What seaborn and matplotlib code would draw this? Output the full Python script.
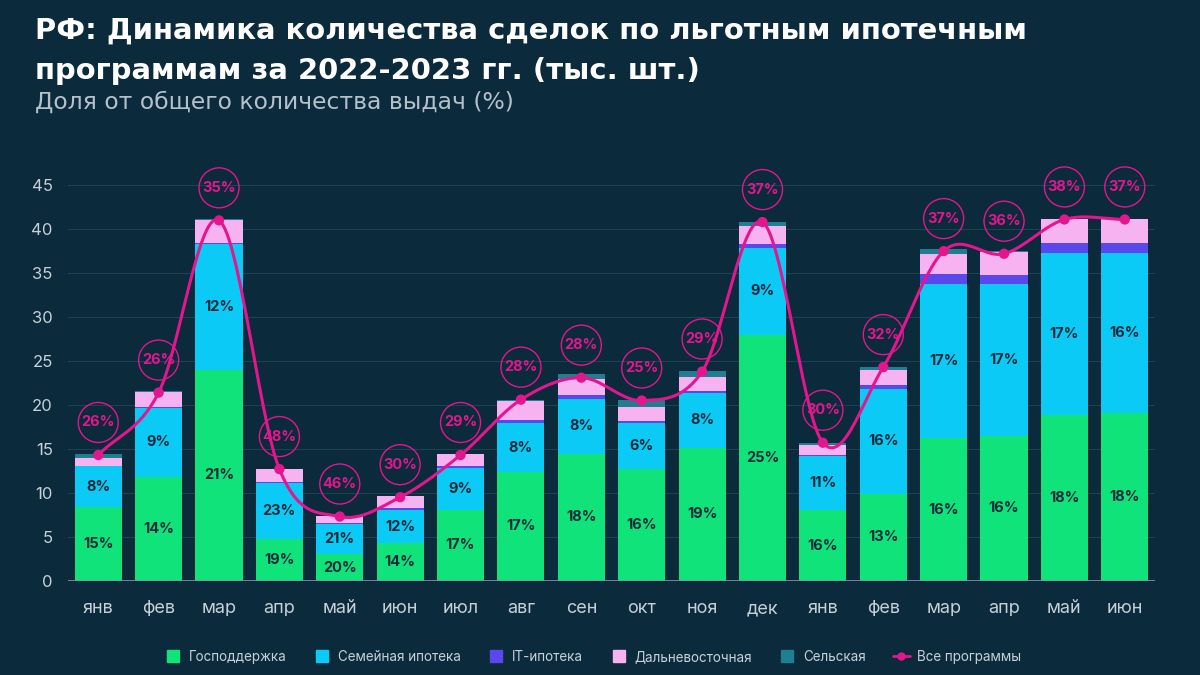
import numpy as np
import pandas as pd
import matplotlib
matplotlib.use("Agg")
import matplotlib.pyplot as plt
from matplotlib.lines import Line2D
import seaborn as sns

months = ["янв", "фев", "мар", "апр", "май", "июн", "июл", "авг", "сен", "окт", "ноя", "дек",
          "янв", "фев", "мар", "апр", "май", "июн"]
gos = [8.4, 11.8, 24.0, 4.8, 3.0, 4.3, 8.1, 12.4, 14.4, 12.7, 15.1, 28.0, 8.0, 9.9, 16.2, 16.5, 18.9, 19.1]
sem = [4.6, 7.9, 14.3, 6.3, 3.4, 3.7, 4.7, 5.5, 6.3, 5.2, 6.3, 9.9, 6.2, 11.9, 17.6, 17.25, 18.35, 18.2]
it_ip = [0.1, 0.1, 0.1, 0.1, 0.15, 0.3, 0.2, 0.4, 0.4, 0.3, 0.2, 0.4, 0.1, 0.5, 1.1, 1.05, 1.15, 1.15]
dv = [0.9, 1.7, 2.6, 1.5, 0.8, 1.3, 1.4, 2.2, 1.9, 1.6, 1.6, 2.0, 1.1, 1.7, 2.3, 2.6, 2.7, 2.7]
sel = [0.4, 0.1, 0.1, 0.05, 0.05, 0.05, 0.05, 0.05, 0.5, 0.8, 0.7, 0.5, 0.3, 0.3, 0.5, 0.1, 0.05, 0.05]
total = [14.3, 21.4, 41.0, 12.7, 7.3, 9.5, 14.3, 20.6, 23.1, 20.5, 23.8, 40.8, 15.7, 24.3, 37.5, 37.2, 41.1, 41.1]
gos_pct = [15, 14, 21, 19, 20, 14, 17, 17, 18, 16, 19, 25, 16, 13, 16, 16, 18, 18]
sem_pct = [8, 9, 12, 23, 21, 12, 9, 8, 8, 6, 8, 9, 11, 16, 17, 17, 17, 16]
share_pct = [26, 26, 35, 48, 46, 30, 29, 28, 28, 25, 29, 37, 30, 32, 37, 36, 38, 37]
yticks = [0, 5, 10, 15, 20, 25, 30, 35, 40, 45]

names = ["Господдержка", "Семейная ипотека", "IT-ипотека", "Дальневосточная", "Сельская"]
colors = ["#0fe37a", "#0ccaf6", "#5a48ec", "#f7b2f2", "#1d7f8f"]
line_color = "#e3168d"
bg = "#0b2a3c"
text_col = "#c6d0d8"

sns.set_theme(style="white")
plt.rcParams["font.family"] = ["Inter", "DejaVu Sans"]

fig = plt.figure(figsize=(12, 6.75), dpi=100)
fig.patch.set_facecolor(bg)
ax = fig.add_axes([0.0567, 0.1397, 0.9058, 0.612])
ax.set_facecolor(bg)

x = np.arange(len(months))
df = pd.DataFrame({"x": x, "gos": gos, "sem": sem, "it": it_ip, "dv": dv, "sel": sel})
bottom = np.zeros(len(months))
for col, name, c in zip(["gos", "sem", "it", "dv", "sel"], names, colors):
    sns.barplot(data=df, x="x", y=col, color=c, saturation=1, width=0.78,
                bottom=bottom, ax=ax, linewidth=0, zorder=2)
    bottom = bottom + df[col].values

# bar labels
g = np.array(gos); s = np.array(sem)
for i in range(len(months)):
    ax.text(x[i], g[i] / 2, f"{gos_pct[i]}%", ha="center", va="center",
            fontsize=10.5, fontweight="bold", color="#0c2a3a", zorder=5)
    ax.text(x[i], g[i] + s[i] / 2, f"{sem_pct[i]}%", ha="center", va="center",
            fontsize=10.5, fontweight="bold", color="#0c2a3a", zorder=5)

# smooth line (Catmull-Rom spline through the totals)
def catmull_rom(xs, ys, num=30):
    xs = np.asarray(xs, float); ys = np.asarray(ys, float)
    n = len(xs)
    m = np.zeros(n)
    m[1:-1] = (ys[2:] - ys[:-2]) / (xs[2:] - xs[:-2])
    m[0] = (ys[1] - ys[0]) / (xs[1] - xs[0])
    m[-1] = (ys[-1] - ys[-2]) / (xs[-1] - xs[-2])
    xx, yy = [], []
    for k in range(n - 1):
        h = xs[k + 1] - xs[k]
        t = np.linspace(0, 1, num, endpoint=(k == n - 2))
        h00 = 2 * t**3 - 3 * t**2 + 1
        h10 = t**3 - 2 * t**2 + t
        h01 = -2 * t**3 + 3 * t**2
        h11 = t**3 - t**2
        yy.extend(h00 * ys[k] + h10 * h * m[k] + h01 * ys[k + 1] + h11 * h * m[k + 1])
        xx.extend(xs[k] + t * h)
    return np.array(xx), np.array(yy)

sx, sy = catmull_rom(x, total)
sns.lineplot(x=sx, y=sy, color=line_color, linewidth=2.2, ax=ax, zorder=6, sort=False)
sns.scatterplot(x=x, y=total, color=line_color, s=55, edgecolor="none", ax=ax, zorder=7)

# circle labels
off = 3.7
tc = np.array(total) + off
ax.scatter(x, tc, s=830, facecolors="none", edgecolors=line_color, linewidths=1.0,
           zorder=7, clip_on=False)
for i in range(len(months)):
    ax.text(x[i], tc[i], f"{share_pct[i]}%", ha="center", va="center", fontsize=10.5,
            fontweight="bold", color=line_color, zorder=8, clip_on=False)

ax.set_xlim(-0.5, len(months) - 0.5)
ax.set_ylim(0, 47)
ax.set_yticks(yticks)
ax.set_yticklabels([str(v) for v in yticks])
ax.set_xticks(x)
ax.set_xticklabels(months)
ax.set_xlabel(""); ax.set_ylabel("")
for yv in yticks[1:]:
    ax.axhline(yv, color="#1c4354", linewidth=0.8, zorder=0)
ax.axhline(0, color="#7f97a6", linewidth=1.2, zorder=3)
for sp in ax.spines.values():
    sp.set_visible(False)
ax.tick_params(axis="x", length=0, colors=text_col, labelsize=13, pad=14)
ax.tick_params(axis="y", length=0, colors=text_col, labelsize=12, pad=11)

fig.text(0.029, 0.955, "РФ: Динамика количества сделок по льготным ипотечным",
         fontsize=20.9, fontweight="bold", color="white", va="center", ha="left",
         family="DejaVu Sans")
fig.text(0.029, 0.895, "программам за 2022-2023 гг. (тыс. шт.)",
         fontsize=20.9, fontweight="bold", color="white", va="center", ha="left",
         family="DejaVu Sans")
fig.text(0.029, 0.848, "Доля от общего количества выдач (%)",
         fontsize=16.9, color="#b5c1ca", va="center", ha="left", family="DejaVu Sans")

handles = [Line2D([0], [0], marker="s", linestyle="none", markersize=9,
                  markerfacecolor=c, markeredgecolor=c) for c in colors]
handles.append(Line2D([0], [0], color=line_color, linewidth=2, marker="o", markersize=5))
leg = fig.legend(handles, names + ["Все программы"], loc="center", ncol=6,
                 bbox_to_anchor=(0.494, 0.027), frameon=False, fontsize=9.7,
                 handlelength=1.3, handletextpad=0.5, columnspacing=2.0)
for t in leg.get_texts():
    t.set_color(text_col)

fig.savefig("out.png", dpi=100, facecolor=bg)
